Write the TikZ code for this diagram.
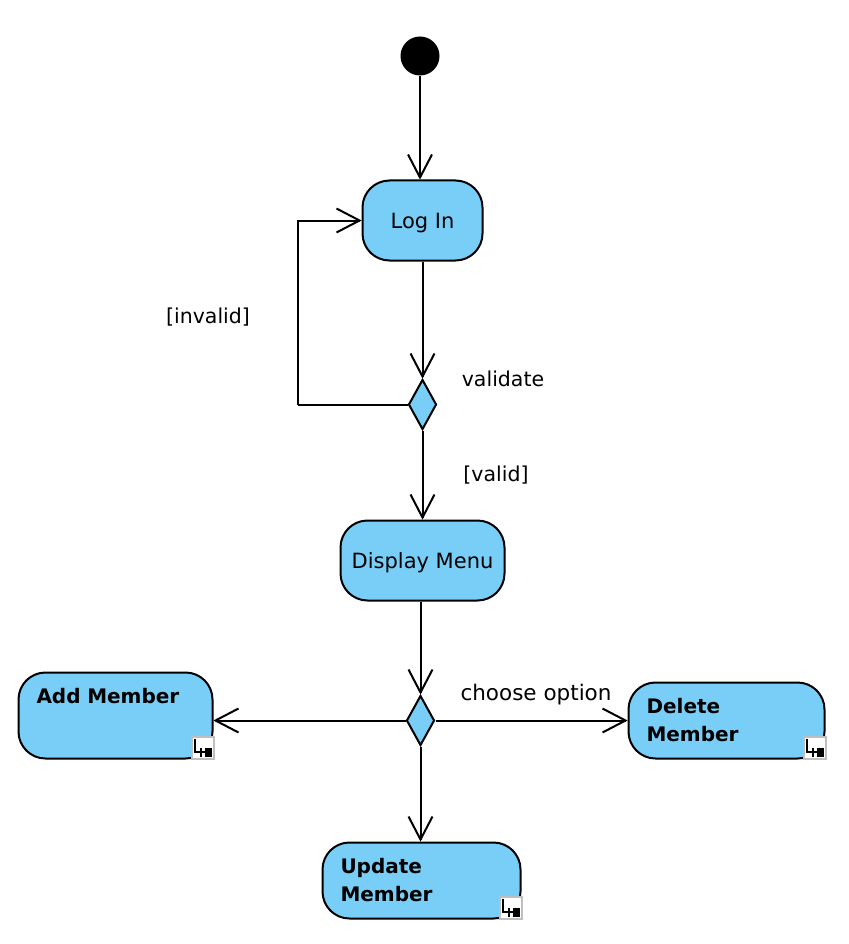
\documentclass[tikz,border=0pt]{standalone}
\usepackage{fontspec}
\setmainfont{DejaVu Sans}
\usetikzlibrary{
  arrows.meta,
  positioning,
  shapes.geometric,
}
\definecolor{myblue}{RGB}{120,206,246}
% Open arrow head with straight barbs
\pgfdeclarearrow{
  name=my barb,
  setup code={
    \pgfarrowssettipend{0pt}
    \pgfarrowssetlineend{-2pt}
    \pgfarrowssetvisualbackend{-24pt}
    \pgfarrowshullpoint{-24pt}{12pt}
    \pgfarrowshullpoint{-24pt}{-12pt}
    \pgfarrowshullpoint{0pt}{0pt}
  },
  drawing code={
    \pgfpathmoveto{\pgfpoint{-25pt}{12pt}}
    \pgfpathlineto{\pgfpoint{-2pt}{0pt}}
    \pgfpathlineto{\pgfpoint{-25pt}{-12pt}}
    \pgfusepathqstroke
  }
}
\tikzset{
  x=1pt,
  y=-1pt,
  >={my barb},
  my start/.style={
    circle,
    fill=black,
    minimum size=39pt,
    inner sep=0pt
  },
  my box/.style={
    draw,
    fill=myblue,
    rectangle,
    rounded corners=27pt,
    inner sep=0pt
  },
  my action/.style={
    my box,
    text height=20pt,
    text depth=5pt,
    font=\fontsize{21}{28}\selectfont
  },
  my call/.style={
    my box,
    align=left,
    font=\fontsize{20}{28}\selectfont\bfseries
  },
  my decision/.style={
    draw,
    fill=myblue,
    diamond,
    aspect=0.57,
    minimum width=28pt,
    minimum height=50pt,
    inner sep=0pt
  },
  my label/.style={
    inner sep=0pt,
    font=\fontsize{20.5}{24}\selectfont
  },
  my icon/.style={
    draw=black!25,
    fill=white,
    minimum size=22pt,
    inner sep=0pt
  },
  % Small marker in the corner of an action that calls another activity
  my sub/.pic={
    \node[my icon] (-box) at (0,0) {};
    \draw (-7.5,-9) -- (-7.5,3.7) -- (3,3.7);
    \draw (-2,0) -- (-2,8.5);
    \fill (2.5,0) rectangle (9,9);
  }
}
\begin{document}
\begin{tikzpicture}[line width=2pt]
\useasboundingbox (0,0) rectangle (848,944);
\node[my start]                                          (start)    at (420,56)     {};
\node[my action,minimum width=120pt,minimum height=80pt] (login)    at (422.5,220.5) {Log In};
\node[my decision]                                       (check)    at (422.5,404.5) {};
\node[my action,minimum width=164pt,minimum height=80pt] (menu)     at (422.5,560.5) {Display Menu};
\node[my decision]                                       (choose)   at (420.5,720.5) {};
\node[my call,minimum width=194pt,minimum height=86pt,
      text width=158pt]                                  (add)      at (115.5,715.5) {Add Member\\[11pt]\mbox{}};
\node[my call,minimum width=196pt,minimum height=76pt,
      text width=160pt]                                  (delete)   at (726.5,720.5) {Delete\\Member};
\node[my call,minimum width=198pt,minimum height=76pt,
      text width=162pt]                                  (update)   at (421.5,880.5) {Update\\Member};
\pic at (202.5,748) {my sub};
\pic at (814.5,748) {my sub};
\pic at (510.5,908) {my sub};
\coordinate (turn1) at (298,404.5);
\coordinate (turn2) at (298,220.5);
\draw[->] (start)  -- (start |- login.north);
\draw[->] (login)  -- (check.north);
\draw     (check)  -- (turn1);
\draw[->] (turn1)  -- (turn2) -- (login.west);
\draw[->] (check)  -- (menu.north);
\draw[->] (menu.south -| choose) -- (choose.north);
\draw[->] (choose) -- (add.east |- choose);
\draw[->] (choose) -- (delete.west);
\draw[->] (choose) -- (update.north -| choose);
\node[my label] (invalid)  at (208,317) {[invalid]};
\node[my label] (validate) at (503,379) {validate};
\node[my label] (valid)    at (496,475) {[valid]};
\node[my label,font=\fontsize{21.5}{24}\selectfont] (option) at (536,695) {choose option};
\end{tikzpicture}
\end{document}
